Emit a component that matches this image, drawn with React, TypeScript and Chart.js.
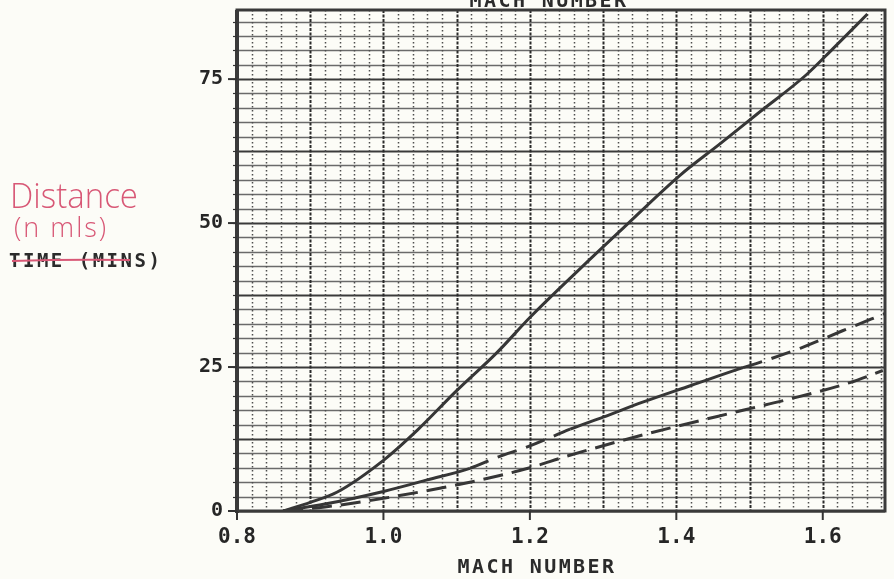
import React, { useEffect, useRef } from "react";
import { Chart, registerables } from "chart.js";

Chart.register(...registerables);

// Mach number range and distance range of the plot
const X_MIN = 0.8;
const X_MAX = 1.685;
const Y_MIN = 0;
const Y_MAX = 87;

const xTickValues = [0.8, 1.0, 1.2, 1.4, 1.6];
const yTickValues = [0, 25, 50, 75];

// Upper (solid) curve
const upperMach = [0.863, 0.9, 0.937, 1.0, 1.046, 1.1, 1.155, 1.2, 1.268, 1.323, 1.405, 1.46, 1.51, 1.578, 1.614, 1.661];
const upperDist = [0, 1.5, 3.3, 8.8, 14.0, 20.9, 27.5, 33.6, 42.0, 48.6, 58.3, 63.8, 68.9, 75.8, 80.3, 86.3];

// Middle curve (part solid, part dashed)
const middleMach = [0.863, 0.92, 1.0, 1.06, 1.118, 1.155, 1.2, 1.255, 1.3, 1.354, 1.42, 1.491, 1.514, 1.57, 1.627, 1.685];
const middleDist = [0, 1.2, 3.4, 5.4, 7.4, 9.3, 11.3, 14.2, 16.3, 18.9, 21.8, 24.9, 25.8, 28.3, 31.3, 34.3];

// Lower (dashed) curve
const lowerMach = [0.863, 0.92, 1.0, 1.118, 1.2, 1.25, 1.354, 1.491, 1.55, 1.637, 1.682];
const lowerDist = [0, 0.7, 2.2, 5.0, 7.5, 9.5, 13.2, 17.5, 19.3, 22.3, 24.4];

const toPoints = (xs: number[], ys: number[]) => xs.map((x, i) => ({ x, y: ys[i] }));

const INK = "#363636";
const PEN = "rgb(216, 88, 118)";
const MONO = '"DejaVu Sans Mono", "Liberation Mono", monospace';

const isMultiple = (v: number, step: number) => Math.abs(v / step - Math.round(v / step)) < 1e-6;

// Stretches of the middle curve drawn with a dashed pen
const middleDashed = (x: number) => (x >= 1.117 && x < 1.25) || x >= 1.49;

const paperPlugin = {
  id: "paperGrid",
  beforeDatasetsDraw(chart: any) {
    const { ctx, chartArea: a, scales } = chart;
    const x = scales.x;
    const y = scales.y;
    ctx.save();
    // horizontal rules every 2.5, heavier every 12.5
    for (let i = 0; i * 2.5 <= Y_MAX + 1e-9; i++) {
      const v = i * 2.5;
      const py = Math.round(y.getPixelForValue(v)) + 0.5;
      const heavy = i % 5 === 0;
      ctx.setLineDash([]);
      ctx.strokeStyle = heavy ? "#3a3a3a" : "#6a6a6a";
      ctx.lineWidth = heavy ? 2 : 1.3;
      ctx.beginPath();
      ctx.moveTo(a.left, py);
      ctx.lineTo(a.right, py);
      ctx.stroke();
    }
    // vertical dotted rules every 0.02, heavier every 0.1
    for (let i = 0; ; i++) {
      const v = X_MIN + i * 0.02;
      if (v > X_MAX + 1e-9) break;
      const px = Math.round(x.getPixelForValue(v)) + 0.5;
      const major = i % 5 === 0;
      ctx.setLineDash(major ? [3, 1.5] : [1.6, 2.4]);
      ctx.strokeStyle = major ? "#2a2a2a" : "#4e4e4e";
      ctx.lineWidth = major ? 2 : 1.5;
      ctx.beginPath();
      ctx.moveTo(px, a.top);
      ctx.lineTo(px, a.bottom);
      ctx.stroke();
    }
    ctx.restore();
  },
  afterDatasetsDraw(chart: any) {
    const { ctx, chartArea: a, scales } = chart;
    const x = scales.x;
    const y = scales.y;
    ctx.save();
    ctx.setLineDash([]);
    ctx.strokeStyle = "#3a3a3a";
    ctx.lineWidth = 3;
    ctx.strokeRect(a.left, a.top, a.right - a.left, a.bottom - a.top);
    ctx.lineWidth = 4;
    ctx.beginPath();
    ctx.moveTo(a.left, a.top);
    ctx.lineTo(a.left, a.bottom + 2);
    ctx.stroke();
    // tick marks
    ctx.lineWidth = 2;
    ctx.strokeStyle = "#333";
    xTickValues.forEach((v) => {
      const px = x.getPixelForValue(v);
      ctx.beginPath();
      ctx.moveTo(px, a.bottom);
      ctx.lineTo(px, a.bottom + 9);
      ctx.stroke();
    });
    yTickValues.forEach((v) => {
      const py = y.getPixelForValue(v);
      ctx.beginPath();
      ctx.moveTo(a.left - 9, py);
      ctx.lineTo(a.left, py);
      ctx.stroke();
    });
    ctx.lineWidth = 1.2;
    for (let i = 1; i * 2.5 <= Y_MAX; i++) {
      const py = Math.round(y.getPixelForValue(i * 2.5)) + 0.5;
      ctx.beginPath();
      ctx.moveTo(a.left - 4, py);
      ctx.lineTo(a.left, py);
      ctx.stroke();
    }
    ctx.restore();
  },
  afterDraw(chart: any) {
    const { ctx, chartArea: a } = chart;
    const cx = (a.left + a.right) / 2 - 24;
    ctx.save();
    ctx.fillStyle = "#2b2b2b";
    ctx.font = `bold 20px ${MONO}`;
    (ctx as any).letterSpacing = "2.4px";
    ctx.textAlign = "center";
    ctx.textBaseline = "alphabetic";
    // axis title, repeated across the top edge
    ctx.fillText("MACH NUMBER", cx + 12, 7);
    ctx.fillText("MACH NUMBER", cx, 573);
    // original vertical axis title, struck out
    ctx.font = `bold 19px ${MONO}`;
    (ctx as any).letterSpacing = "2.5px";
    ctx.textAlign = "left";
    ctx.fillText("TIME (MINS)", 9, 267);
    (ctx as any).letterSpacing = "0px";
    ctx.strokeStyle = PEN;
    ctx.lineWidth = 2;
    ctx.beginPath();
    ctx.moveTo(12, 261);
    ctx.quadraticCurveTo(70, 259, 130, 260);
    ctx.stroke();
    // handwritten replacement title
    ctx.fillStyle = PEN;
    ctx.font = `300 34px "Open Sans", "DejaVu Sans", sans-serif`;
    ctx.fillText("Distance", 10, 208, 128);
    ctx.font = `300 27px "Open Sans", "DejaVu Sans", sans-serif`;
    (ctx as any).letterSpacing = "2px";
    ctx.fillText("(n mls)", 14, 237, 112);
    ctx.restore();
  },
};

export default function App() {
  const canvasRef = useRef<HTMLCanvasElement | null>(null);

  useEffect(() => {
    const canvas = canvasRef.current;
    if (!canvas) return;
    const chart = new Chart(canvas, {
      type: "line",
      data: {
        datasets: [
          {
            data: toPoints(upperMach, upperDist),
            borderColor: INK,
            borderWidth: 3,
            pointRadius: 0,
            cubicInterpolationMode: "monotone",
            fill: false,
          },
          {
            data: toPoints(middleMach, middleDist),
            borderColor: INK,
            borderWidth: 3,
            pointRadius: 0,
            cubicInterpolationMode: "monotone",
            fill: false,
            segment: {
              borderDash: (ctx: any) => (middleDashed(ctx.p0.parsed.x) ? [20, 10] : undefined),
            },
          },
          {
            data: toPoints(lowerMach, lowerDist),
            borderColor: INK,
            borderWidth: 3,
            pointRadius: 0,
            borderDash: [20, 9],
            cubicInterpolationMode: "monotone",
            fill: false,
          },
        ],
      },
      options: {
        animation: false,
        responsive: false,
        devicePixelRatio: 1,
        layout: { padding: { left: 0, right: 9, top: 10, bottom: 0 } },
        plugins: { legend: { display: false }, tooltip: { enabled: false }, title: { display: false } },
        scales: {
          x: {
            type: "linear",
            min: X_MIN,
            max: X_MAX,
            grid: { display: false },
            border: { display: false },
            ticks: {
              stepSize: 0.2,
              includeBounds: false,
              autoSkip: false,
              maxRotation: 0,
              padding: 6,
              color: "#262626",
              font: { family: MONO, size: 21, weight: "bold" },
              callback: (v: any) => (isMultiple(Number(v), 0.2) ? Number(v).toFixed(1) : ""),
            },
            afterFit: (s: any) => {
              s.height = 68;
              s.paddingLeft = 0;
              s.paddingRight = 0;
            },
          },
          y: {
            type: "linear",
            min: Y_MIN,
            max: Y_MAX,
            grid: { display: false },
            border: { display: false },
            ticks: {
              stepSize: 25,
              includeBounds: false,
              padding: 6,
              color: "#262626",
              font: { family: MONO, size: 20, weight: "bold" },
              callback: (v: any) => (isMultiple(Number(v), 25) ? String(Math.round(Number(v))) : ""),
            },
            afterFit: (s: any) => {
              s.width = 237;
              s.paddingTop = 0;
              s.paddingBottom = 0;
            },
          },
        },
      },
      plugins: [paperPlugin],
    } as any);
    return () => chart.destroy();
  }, []);

  return (
    <div style={{ position: "fixed", left: 0, top: 0, width: 894, height: 579, background: "#fcfcf7" }}>
      <canvas ref={canvasRef} width={894} height={579} style={{ display: "block" }} />
    </div>
  );
}
